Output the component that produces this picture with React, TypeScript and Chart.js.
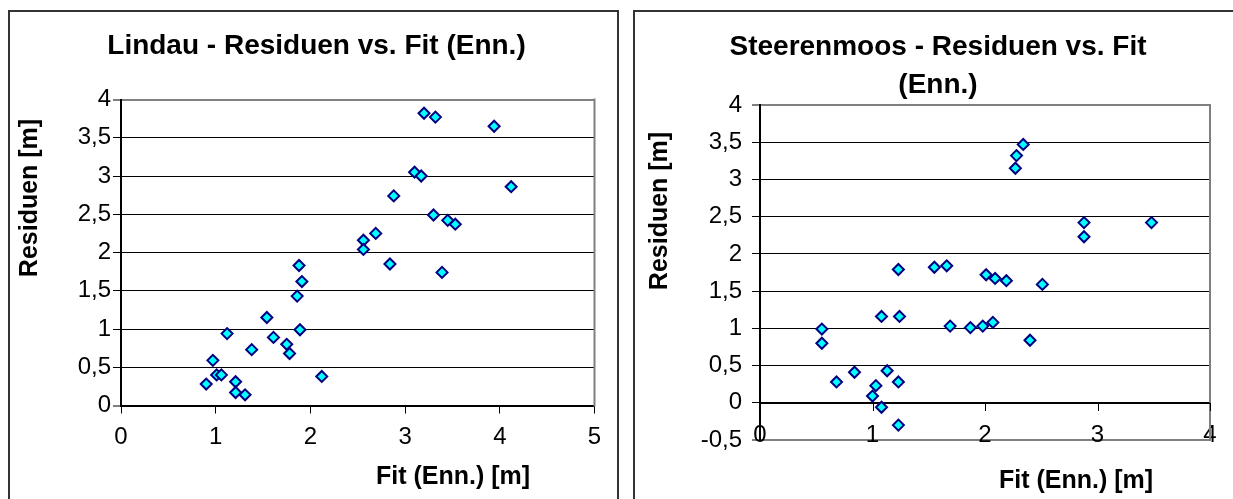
import React, { useEffect, useRef } from 'react';
import { Chart, registerables } from 'chart.js';

Chart.register(...registerables);

const FONT = '"Liberation Sans", Arial, Helvetica, sans-serif';

// Lindau: residuals vs. fit
const lindauFit = [0.90, 0.97, 1.01, 1.06, 1.12, 1.21, 1.21, 1.31, 1.38, 1.54, 1.61, 1.75, 1.78, 1.86, 1.89, 1.88, 1.91, 2.12, 2.56, 2.56, 2.69, 2.84, 2.88, 3.10, 3.17, 3.20, 3.32, 3.30, 3.45, 3.53, 3.39, 3.94, 4.12];
const lindauRes = [0.28, 0.59, 0.40, 0.40, 0.94, 0.31, 0.17, 0.14, 0.73, 1.15, 0.89, 0.80, 0.68, 1.43, 0.99, 1.83, 1.62, 0.38, 2.16, 2.04, 2.25, 1.85, 2.74, 3.05, 3.00, 3.82, 3.77, 2.49, 2.42, 2.37, 1.74, 3.65, 2.86];

// Steerenmoos: residuals vs. fit
const steerFit = [0.55, 0.55, 0.68, 0.84, 1.00, 1.03, 1.08, 1.08, 1.13, 1.23, 1.23, 1.23, 1.24, 1.55, 1.66, 1.69, 1.87, 1.98, 2.01, 2.07, 2.09, 2.19, 2.27, 2.28, 2.34, 2.40, 2.51, 2.88, 2.88, 3.48];
const steerRes = [0.99, 0.80, 0.28, 0.41, 0.09, 0.23, -0.06, 1.16, 0.43, 0.28, -0.30, 1.79, 1.16, 1.82, 1.84, 1.03, 1.01, 1.03, 1.72, 1.08, 1.67, 1.64, 3.15, 3.32, 3.47, 0.84, 1.59, 2.42, 2.23, 2.42];

// Axis settings: [min, max, step]
const lindauX = [0, 5, 1];
const lindauY = [0, 4, 0.5];
const steerX = [0, 4, 1];
const steerY = [-0.5, 4, 0.5];

const lindauTitle = ['Lindau - Residuen vs. Fit (Enn.)'];
const steerTitle = ['Steerenmoos - Residuen vs. Fit', '(Enn.)'];
const yTitle = 'Residuen [m]';
const xTitle = 'Fit (Enn.) [m]';

const fmt = (v: number) => String(Math.round(v * 10) / 10).replace('.', ',');

type PanelProps = {
  fit: number[];
  res: number[];
  xr: number[];
  yr: number[];
  titles: string[];
  w: number;
  h: number;
  area: { left: number; top: number; right: number; bottom: number };
  titlePos: { x: number; y: number; gap: number };
  yTitlePos: { x: number; y: number };
  xTitlePos: { x: number; y: number };
  axisAtZero: boolean;
  yPad: number;
  xPad: number;
};

function Panel(p: PanelProps) {
  const ref = useRef<HTMLCanvasElement | null>(null);
  useEffect(() => {
    if (!ref.current) return;
    const [xmin, xmax, xstep] = p.xr;
    const [ymin, ymax, ystep] = p.yr;

    const framePlugin = {
      id: 'frame',
      beforeDatasetsDraw(chart: any) {
        const { ctx, chartArea } = chart;
        const { top, bottom, right } = chartArea;
        ctx.save();
        ctx.strokeStyle = '#808080';
        ctx.lineWidth = 2;
        ctx.beginPath();
        ctx.moveTo(right, top - 1);
        ctx.lineTo(right, bottom + 1);
        ctx.stroke();
        if (p.axisAtZero) {
          const xs = chart.scales.x;
          const ys = chart.scales.y;
          const y0 = Math.round(ys.getPixelForValue(0));
          ctx.strokeStyle = '#000';
          ctx.lineWidth = 1;
          ctx.beginPath();
          xs.ticks.forEach((t: any) => {
            const px = Math.round(xs.getPixelForValue(t.value)) + 0.5;
            ctx.moveTo(px, y0);
            ctx.lineTo(px, y0 + 8);
          });
          ctx.stroke();
          ctx.lineWidth = 1.5;
          ctx.beginPath();
          ctx.moveTo(chartArea.left, y0 + 0.25);
          ctx.lineTo(right, y0 + 0.25);
          ctx.stroke();
        }
        ctx.restore();
      },
    };

    const textPlugin = {
      id: 'texts',
      afterDraw(chart: any) {
        const { ctx } = chart;
        ctx.save();
        ctx.fillStyle = '#000';
        ctx.textAlign = 'center';
        ctx.textBaseline = 'middle';
        ctx.font = `bold 28px ${FONT}`;
        p.titles.forEach((t, i) => {
          ctx.fillText(t, p.titlePos.x, p.titlePos.y + i * p.titlePos.gap);
        });
        ctx.font = `bold 25px ${FONT}`;
        ctx.fillText(xTitle, p.xTitlePos.x, p.xTitlePos.y);
        ctx.translate(p.yTitlePos.x, p.yTitlePos.y);
        ctx.rotate(-Math.PI / 2);
        ctx.fillText(yTitle, 0, 0);
        ctx.restore();
      },
    };

    const chart = new Chart(ref.current, {
      type: 'scatter',
      data: {
        datasets: [
          {
            data: p.fit.map((x, i) => ({ x, y: p.res[i] })),
            pointStyle: 'rectRot',
            pointRadius: 5.5,
            pointHoverRadius: 5.5,
            pointBorderWidth: 2,
            pointBackgroundColor: '#00FFFF',
            pointBorderColor: '#000080',
            showLine: false,
          },
        ],
      },
      options: {
        animation: false,
        responsive: false,
        maintainAspectRatio: false,
        layout: {
          padding: {
            left: 0,
            bottom: 0,
            top: p.area.top,
            right: p.w - p.area.right,
          },
        },
        plugins: {
          legend: { display: false },
          title: { display: false },
          tooltip: { enabled: false },
        },
        scales: {
          x: {
            type: 'linear',
            min: xmin,
            max: xmax,
            ticks: {
              stepSize: xstep,
              autoSkip: false,
              maxRotation: 0,
              mirror: p.axisAtZero,
              color: '#000',
              font: { family: FONT, size: 24 },
              padding: p.xPad,
              callback: (v: any) => fmt(Number(v)),
            },
            grid: {
              display: true,
              drawOnChartArea: false,
              drawTicks: !p.axisAtZero,
              tickLength: 8,
              tickColor: '#000',
              tickWidth: 1,
            },
            border: {
              display: true,
              color: p.axisAtZero ? '#808080' : '#000',
              width: 2,
            },
            afterFit: (s: any) => {
              s.height = p.h - p.area.bottom;
            },
          },
          y: {
            type: 'linear',
            min: ymin,
            max: ymax,
            ticks: {
              stepSize: ystep,
              autoSkip: false,
              color: '#000',
              font: { family: FONT, size: 24 },
              padding: p.yPad,
              callback: (v: any) => fmt(Number(v)),
            },
            grid: {
              display: true,
              drawTicks: true,
              tickLength: 8,
              tickColor: '#000',
              tickWidth: 1,
              color: (c: any) =>
                c.tick && (c.tick.value === ymax || c.tick.value === ymin) ? '#808080' : '#000',
              lineWidth: (c: any) =>
                c.tick && (c.tick.value === ymax || c.tick.value === ymin) ? 2 : 1,
            },
            border: { display: true, color: '#000', width: 2 },
            afterFit: (s: any) => {
              s.width = p.area.left;
            },
          },
        },
      },
      plugins: [framePlugin, textPlugin],
    } as any);
    return () => chart.destroy();
  }, []);
  return <canvas ref={ref} width={p.w} height={p.h} style={{ width: p.w, height: p.h, display: 'block' }} />;
}

const panelStyle = (left: number): React.CSSProperties => ({
  position: 'absolute',
  left,
  top: 10,
  width: 611,
  height: 520,
  boxSizing: 'border-box',
  border: '2px solid #333',
  background: '#fff',
});

export default function App() {
  return (
    <div
      style={{
        position: 'absolute',
        left: 0,
        top: 0,
        width: 1233,
        height: 499,
        overflow: 'hidden',
        background: '#fff',
      }}
    >
      <div style={panelStyle(8)}>
        <Panel
          fit={lindauFit}
          res={lindauRes}
          xr={lindauX}
          yr={lindauY}
          titles={lindauTitle}
          w={607}
          h={487}
          area={{ left: 111, top: 87.5, right: 584.5, bottom: 393.5 }}
          titlePos={{ x: 306.5, y: 34, gap: 38 }}
          yTitlePos={{ x: 20, y: 186 }}
          xTitlePos={{ x: 443, y: 465 }}
          axisAtZero={false}
          yPad={2}
          xPad={9}
        />
      </div>
      <div style={panelStyle(633)}>
        <Panel
          fit={steerFit}
          res={steerRes}
          xr={steerX}
          yr={steerY}
          titles={steerTitle}
          w={598}
          h={487}
          area={{ left: 125, top: 93, right: 575, bottom: 428 }}
          titlePos={{ x: 303, y: 35, gap: 38 }}
          yTitlePos={{ x: 25, y: 199 }}
          xTitlePos={{ x: 441, y: 469 }}
          axisAtZero={true}
          yPad={10}
          xPad={-9.5}
        />
      </div>
    </div>
  );
}
